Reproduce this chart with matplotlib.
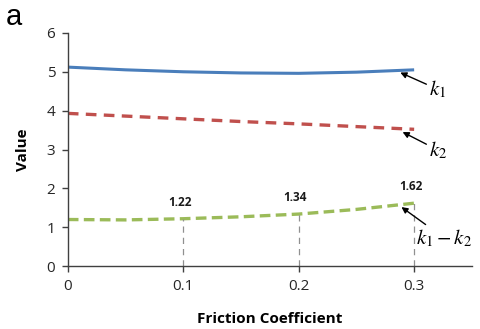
import matplotlib.pyplot as plt
import numpy as np

plt.rcParams['mathtext.fontset'] = 'stix'

friction = [0.0, 0.05, 0.1, 0.15, 0.2, 0.25, 0.3]
k1 = [5.12, 5.05, 5.00, 4.97, 4.96, 4.99, 5.05]
k2 = [3.93, 3.86, 3.79, 3.72, 3.66, 3.59, 3.52]
diff = [1.20, 1.19, 1.22, 1.27, 1.34, 1.46, 1.62]

marked_x = [0.1, 0.2, 0.3]
marked_y = [1.22, 1.34, 1.62]

fig = plt.figure(figsize=(4.81, 3.29), dpi=100)
ax = fig.add_axes([0.141, 0.191, 0.84, 0.709])

ax.plot(friction, k1, color='#4A7EBB', lw=2.2, solid_capstyle='butt')
ax.plot(friction, k2, color='#C0504D', lw=2.4, dashes=(3.2, 2.2))
ax.plot(friction, diff, color='#9BBB59', lw=2.4, dashes=(3.2, 1.6))

# drop lines under the labelled points
for x, y in zip(marked_x, marked_y):
    ax.plot([x, x], [0, y], color='#909090', lw=0.9, dashes=(5, 4))
    ax.text(x - 0.003, y + 0.25, f'{y:.2f}', ha='center', va='bottom',
            fontsize=8.5, fontweight='bold', color='#1a1a1a', family='Open Sans')

arrow = dict(arrowstyle='-|>', color='black', lw=1.0, mutation_scale=9, shrinkA=0, shrinkB=0)
ax.annotate(r'$k_1$', xy=(0.288, 4.98), xytext=(0.313, 4.55), fontsize=15,
            arrowprops=arrow, ha='left', va='center')
ax.annotate(r'$k_2$', xy=(0.29, 3.45), xytext=(0.313, 2.98), fontsize=15,
            arrowprops=arrow, ha='left', va='center')
ax.annotate(r'$k_1 - k_2$', xy=(0.289, 1.52), xytext=(0.302, 0.72), fontsize=15,
            arrowprops=arrow, ha='left', va='center')

ax.set_xlim(0, 0.35)
ax.set_ylim(0, 6)
ax.set_xticks([0, 0.1, 0.2, 0.3])
ax.set_xticklabels(['0', '0.1', '0.2', '0.3'])
ax.set_yticks(range(7))

for s in ['top', 'right']:
    ax.spines[s].set_visible(False)
for s in ['left', 'bottom']:
    ax.spines[s].set_color('#404040')
    ax.spines[s].set_linewidth(1.0)
ax.tick_params(direction='out', length=4, width=1, color='#404040',
               labelsize=11, labelcolor='#262626', pad=5)
for lab in ax.get_xticklabels() + ax.get_yticklabels():
    lab.set_family('Open Sans')

ax.set_xlabel('Friction Coefficient', fontsize=11, fontweight='bold', family='Open Sans', labelpad=13)
ax.set_ylabel('Value', fontsize=11, fontweight='bold', family='Open Sans', labelpad=12)

fig.text(0.012, 0.99, 'a', fontsize=21, va='top', ha='left', family='Liberation Sans')

fig.savefig('out.png', dpi=100)
